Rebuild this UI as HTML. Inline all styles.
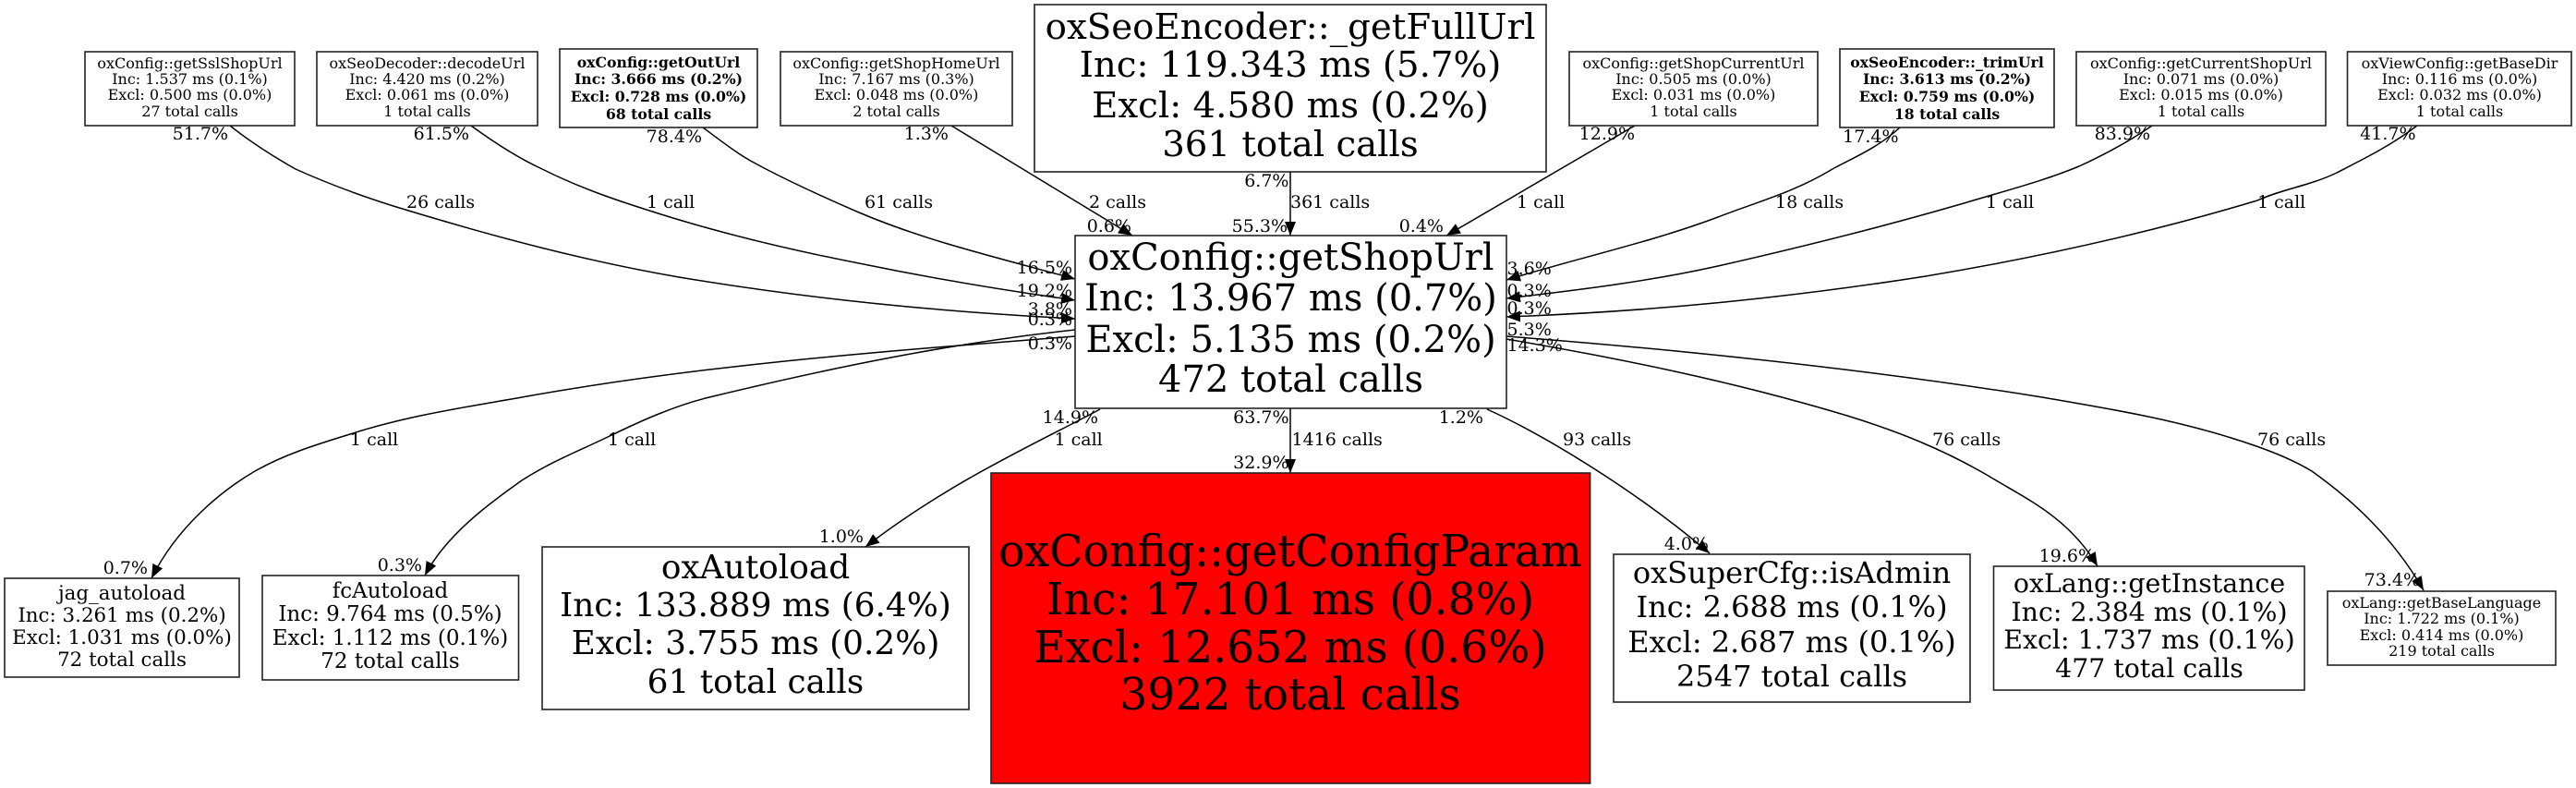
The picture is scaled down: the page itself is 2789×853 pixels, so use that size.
<!DOCTYPE html>
<html><head><meta charset="utf-8"><style>
html,body{margin:0;padding:0;background:#fff;width:2789px;height:853px;overflow:hidden}
svg{display:block}
text{font-family:"DejaVu Serif",serif;fill:#000;white-space:pre}
.b rect{fill:#fff;stroke:#222;stroke-width:1.6}
.b text{text-anchor:middle}
.e path{fill:none;stroke:#000;stroke-width:1.5;marker-end:url(#a)}
.l text{font-size:19px}
.r{text-anchor:end}
.bd{font-weight:bold}
</style></head><body>
<svg width="2789" height="853" viewBox="0 0 2789 853" xmlns="http://www.w3.org/2000/svg">
<defs><marker id="a" markerUnits="userSpaceOnUse" markerWidth="16" markerHeight="14" refX="15" refY="6" orient="auto"><path d="M0,0L15,6L0,12Z" fill="#000"/></marker></defs>
<g class="e">
<path d="M249,136C273,155 297,170 320,183C360,201 399,215 439,227C538,257 636,283 735,300C873,323 1010,337 1164,345"/>
<path d="M510,136C536,155 561,171 587,183C625,202 662,215 700,227C777,252 853,270 930,285C1003,300 1077,313 1164,325"/>
<path d="M761,138C780,152 799,167 818,177C855,197 893,214 930,230C1003,261 1077,278 1164,302"/>
<path d="M1030,136L1226,255"/>
<path d="M1397,186L1397,255"/>
<path d="M1770,136L1566,255"/>
<path d="M2057,138C2033,160 2008,170 1984,183C1943,208 1901,219 1860,235C1788,262 1717,277 1631,303"/>
<path d="M2330,136C2304,154 2277,168 2251,180C2217,194 2184,203 2150,213C2053,242 1957,266 1860,288C1788,304 1717,313 1631,323"/>
<path d="M2617,136C2588,158 2559,172 2530,187C2501,201 2473,204 2444,217C2324,253 2205,279 2085,299C1938,322 1792,337 1631,343"/>
<path d="M1164,364C964,380 765,394 565,430C503,441 441,450 379,470C340,482 308,492 276,510C240,531 192,570 164,626"/>
<path d="M1164,357C1032,371 900,398 768,430C731,439 695,455 658,473C627,488 596,500 565,520C540,538 485,575 460,623"/>
<path d="M1191,443C1130,476 1030,520 937,592"/>
<path d="M1397,442L1397,512"/>
<path d="M1610,443C1670,470 1770,530 1851,599"/>
<path d="M1631,367C1754,388 1877,413 2000,450C2052,466 2104,486 2156,517C2192,539 2240,560 2271,613"/>
<path d="M1631,364C1824,379 2018,399 2211,430C2288,443 2366,456 2443,483C2463,490 2483,498 2503,510C2545,540 2590,580 2624,639"/>
</g>
<g class="b">
<rect x="92" y="56" width="227" height="80"/><g font-size="16"><text x="205.5" y="74">oxConfig::getSslShopUrl</text><text x="205.5" y="91">Inc: 1.537 ms (0.1%)</text><text x="205.5" y="108">Excl: 0.500 ms (0.0%)</text><text x="205.5" y="126">27 total calls</text></g>
<rect x="343" y="56" width="239" height="80"/><g font-size="16"><text x="462.5" y="74">oxSeoDecoder::decodeUrl</text><text x="462.5" y="91">Inc: 4.420 ms (0.2%)</text><text x="462.5" y="108">Excl: 0.061 ms (0.0%)</text><text x="462.5" y="126">1 total calls</text></g>
<rect x="606" y="53" width="214" height="85"/><g font-size="15.7" class="bd"><text x="713" y="73">oxConfig::getOutUrl</text><text x="713" y="91">Inc: 3.666 ms (0.2%)</text><text x="713" y="110">Excl: 0.728 ms (0.0%)</text><text x="713" y="129">68 total calls</text></g>
<rect x="845" y="56" width="251" height="80"/><g font-size="16"><text x="970.5" y="74">oxConfig::getShopHomeUrl</text><text x="970.5" y="91">Inc: 7.167 ms (0.3%)</text><text x="970.5" y="108">Excl: 0.048 ms (0.0%)</text><text x="970.5" y="126">2 total calls</text></g>
<rect x="1120" y="5" width="554" height="181"/><g font-size="38.7"><text x="1397" y="42">oxSeoEncoder::_getFullUrl</text><text x="1397" y="83">Inc: 119.343 ms (5.7%)</text><text x="1397" y="127">Excl: 4.580 ms (0.2%)</text><text x="1397" y="169">361 total calls</text></g>
<rect x="1699" y="56" width="269" height="80"/><g font-size="16"><text x="1833.5" y="74">oxConfig::getShopCurrentUrl</text><text x="1833.5" y="91">Inc: 0.505 ms (0.0%)</text><text x="1833.5" y="108">Excl: 0.031 ms (0.0%)</text><text x="1833.5" y="126">1 total calls</text></g>
<rect x="1992" y="53" width="232" height="85"/><g font-size="15.7" class="bd"><text x="2108" y="73">oxSeoEncoder::_trimUrl</text><text x="2108" y="91">Inc: 3.613 ms (0.2%)</text><text x="2108" y="110">Excl: 0.759 ms (0.0%)</text><text x="2108" y="129">18 total calls</text></g>
<rect x="2248" y="56" width="270" height="80"/><g font-size="16"><text x="2383" y="74">oxConfig::getCurrentShopUrl</text><text x="2383" y="91">Inc: 0.071 ms (0.0%)</text><text x="2383" y="108">Excl: 0.015 ms (0.0%)</text><text x="2383" y="126">1 total calls</text></g>
<rect x="2541.5" y="56" width="242.5" height="80"/><g font-size="16"><text x="2663" y="74">oxViewConfig::getBaseDir</text><text x="2663" y="91">Inc: 0.116 ms (0.0%)</text><text x="2663" y="108">Excl: 0.032 ms (0.0%)</text><text x="2663" y="126">1 total calls</text></g>
<rect x="1164" y="255" width="467" height="187"/><g font-size="40"><text x="1397.5" y="292">oxConfig::getShopUrl</text><text x="1397.5" y="336">Inc: 13.967 ms (0.7%)</text><text x="1397.5" y="381">Excl: 5.135 ms (0.2%)</text><text x="1397.5" y="424">472 total calls</text></g>
<rect x="5" y="626" width="254" height="107"/><g font-size="21.4"><text x="132" y="649">jag_autoload</text><text x="132" y="673">Inc: 3.261 ms (0.2%)</text><text x="132" y="697">Excl: 1.031 ms (0.0%)</text><text x="132" y="721">72 total calls</text></g>
<rect x="284" y="623" width="277.5" height="113"/><g font-size="23"><text x="422.5" y="647">fcAutoload</text><text x="422.5" y="672">Inc: 9.764 ms (0.5%)</text><text x="422.5" y="698">Excl: 1.112 ms (0.1%)</text><text x="422.5" y="723">72 total calls</text></g>
<rect x="587" y="592" width="462" height="176"/><g font-size="35.9"><text x="818" y="626">oxAutoload</text><text x="818" y="667">Inc: 133.889 ms (6.4%)</text><text x="818" y="708">Excl: 3.755 ms (0.2%)</text><text x="818" y="750">61 total calls</text></g>
<rect x="1073" y="512" width="648.6" height="336" style="fill:#f00"/><g font-size="47.3"><text x="1397" y="613">oxConfig::getConfigParam</text><text x="1397" y="665">Inc: 17.101 ms (0.8%)</text><text x="1397" y="717">Excl: 12.652 ms (0.6%)</text><text x="1397" y="768">3922 total calls</text></g>
<rect x="1747" y="600" width="386" height="160"/><g font-size="32"><text x="1940" y="631">oxSuperCfg::isAdmin</text><text x="1940" y="668">Inc: 2.688 ms (0.1%)</text><text x="1940" y="706">Excl: 2.687 ms (0.1%)</text><text x="1940" y="743">2547 total calls</text></g>
<rect x="2158.5" y="613" width="336.5" height="134"/><g font-size="28.4"><text x="2327" y="641">oxLang::getInstance</text><text x="2327" y="672">Inc: 2.384 ms (0.1%)</text><text x="2327" y="702">Excl: 1.737 ms (0.1%)</text><text x="2327" y="733">477 total calls</text></g>
<rect x="2520" y="640" width="247" height="80"/><g font-size="16"><text x="2643.5" y="658">oxLang::getBaseLanguage</text><text x="2643.5" y="675">Inc: 1.722 ms (0.1%)</text><text x="2643.5" y="693">Excl: 0.414 ms (0.0%)</text><text x="2643.5" y="710">219 total calls</text></g>
</g>
<g class="l">
<text class="r" x="247" y="151">51.7%</text><text class="r" x="508" y="151">61.5%</text><text class="r" x="760" y="154">78.4%</text><text class="r" x="1027" y="151">1.3%</text><text class="r" x="1395.5" y="202">6.7%</text><text class="r" x="1770" y="151">12.9%</text><text class="r" x="2055.5" y="154">17.4%</text><text class="r" x="2328" y="151">83.9%</text><text class="r" x="2615.5" y="151">41.7%</text>
<text class="r" x="1225" y="251">0.6%</text><text class="r" x="1394" y="251">55.3%</text><text class="r" x="1563" y="251">0.4%</text>
<text class="r" x="1161" y="296">16.5%</text><text class="r" x="1161" y="321">19.2%</text><text class="r" x="1161" y="341">3.8%</text><text class="r" x="1161" y="352">0.3%</text><text class="r" x="1161" y="378">0.3%</text>
<text x="1631.5" y="297">3.6%</text><text x="1631.5" y="321">0.3%</text><text x="1631.5" y="340">0.3%</text><text x="1631.5" y="363">5.3%</text><text x="1631.5" y="380">14.3%</text>
<text class="r" x="1189" y="458">14.9%</text><text class="r" x="1395.5" y="458">63.7%</text><text class="r" x="1606" y="458">1.2%</text><text class="r" x="1395.5" y="507">32.9%</text>
<text x="440" y="225">26 calls</text><text x="700" y="225">1 call</text><text x="936" y="225">61 calls</text><text x="1179" y="225">2 calls</text><text x="1397" y="225">361 calls</text><text x="1642" y="225">1 call</text><text x="1922" y="225">18 calls</text><text x="2150" y="225">1 call</text><text x="2444" y="225">1 call</text>
<text x="379" y="482">1 call</text><text x="658" y="482">1 call</text><text x="1141.5" y="482">1 call</text><text x="1398.5" y="482">1416 calls</text><text x="1692" y="482">93 calls</text><text x="2092" y="482">76 calls</text><text x="2444" y="482">76 calls</text>
<text class="r" x="160" y="621">0.7%</text><text class="r" x="457" y="618">0.3%</text><text class="r" x="935" y="587">1.0%</text><text class="r" x="1850" y="595">4.0%</text><text class="r" x="2268" y="608">19.6%</text><text class="r" x="2620" y="634">73.4%</text>
</g>
</svg>
</body></html>
